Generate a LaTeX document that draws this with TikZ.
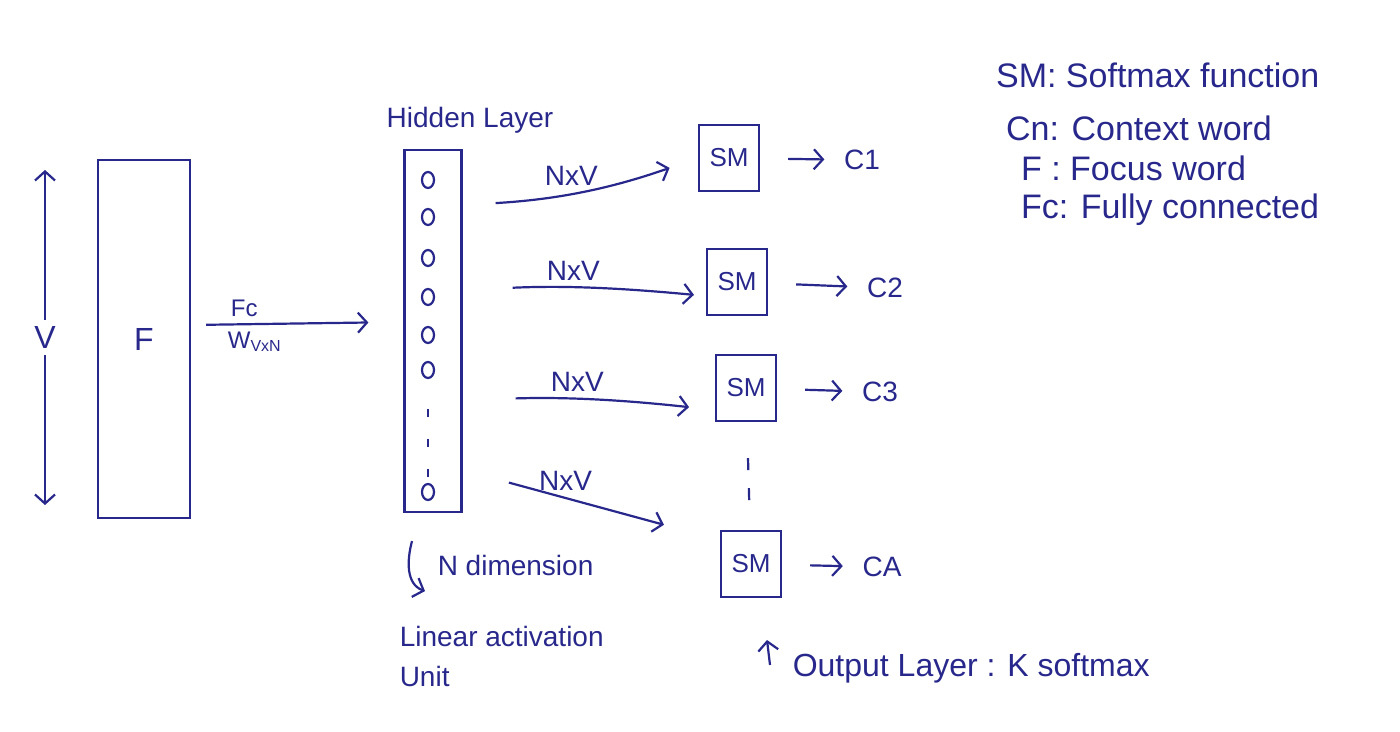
\documentclass[tikz,border=0pt]{standalone}
\usepackage{fontspec}
\setmainfont{Liberation Sans}
\usetikzlibrary{shapes,arrows,arrows.meta}
\definecolor{ink}{RGB}{40,40,140}
\tikzstyle{block} = [rectangle, draw, 
    text centered, minimum width=30pt, minimum height=33pt, font=\fontsize{13}{15}\selectfont]
\tikzstyle{unit} = [ellipse, draw, inner sep=0pt, minimum width=6pt, minimum height=8pt]
\tikzstyle{note} = [anchor=west, inner sep=0pt]
\tikzstyle{line} = [draw, -{Straight Barb[length=4.5pt, width=10pt]}]

\begin{document}
\begin{tikzpicture}[x=0.5pt, y=-0.5pt, ink, line width=1.1pt, font=\fontsize{14}{17}\selectfont]
\useasboundingbox (0,0) rectangle (1400,732);

% input word and hidden layer
\node [block, minimum width=46pt, minimum height=179pt, font=\fontsize{16}{18}\selectfont] at (144,339) (focus) {F};
\node [block, minimum width=28.5pt, minimum height=181pt] at (433,331) (hidden) {};
\node at (470,120) (hiddenlabel) {Hidden Layer};
\foreach \y [count=\i] in {180,217,258,297,335,370,492}
    \node [unit] at (428,\y) (u\i) {};
\draw [dash pattern=on 4pt off 11pt, shorten <=15pt, shorten >=1pt] (u6) -- (u7);

\coordinate (vtop) at (45,170);
\coordinate (vbot) at (45,505);
\draw [{Straight Barb[length=4.5pt, width=10pt]}-{Straight Barb[length=4.5pt, width=10pt]}] (vtop) -- node[fill=white, font=\fontsize{16}{18}\selectfont] {V} (vbot);

\draw [line, shorten <=7.5pt, shorten >=17.5pt] ([yshift=7pt]focus.east) -- node[pos=0.25, above, font=\fontsize{12}{14}\selectfont] {Fc} node[pos=0.3, below, font=\fontsize{12}{14}\selectfont] {W\textsubscript{VxN}} ([yshift=4.5pt]hidden.west);

% softmax outputs
\node [block] at (729,158) (s1) {SM};
\node [block] at (737,282) (s2) {SM};
\node [block] at (746,388) (s3) {SM};
\node [block] at (751,564) (s4) {SM};
\node at (862,160) (c1) {C1};
\node at (885,288) (c2) {C2};
\node at (880,392) (c3) {C3};
\node at (882,567) (c4) {CA};
\foreach \i in {1,2,3,4}
    \draw [line, shorten <=14pt, shorten >=6pt] (s\i) -- (c\i);
\draw [dash pattern=on 6pt off 9pt, shorten <=18pt, shorten >=8pt] (s3) -- (s4);

\draw [line, shorten <=16.5pt, shorten >=15pt] ([yshift=63pt]hidden.east) to[bend right=8] node[pos=0.45, above] {NxV} (s1.west);
\draw [line, shorten <=25pt, shorten >=6pt] ([yshift=20.5pt]hidden.east) to[bend left=4] node[pos=0.45, above] {NxV} ([yshift=-7pt]s2.west);
\draw [line, shorten <=26.5pt, shorten >=13pt] ([yshift=-34.5pt]hidden.east) to[bend left=4] node[pos=0.45, above] {NxV} ([yshift=-11pt]s3.west);
\draw [line, shorten <=24pt, shorten >=29pt] ([yshift=-69.5pt]hidden.east) -- node[pos=0.4, above] {NxV} ([yshift=12pt]s4.west);

% annotations
\node [anchor=west] at (430,565) (ndim) {N dimension};
\draw [line] ([xshift=-10.5pt,yshift=-14pt]hidden.south) to[out=255,in=160] ([xshift=-4pt,yshift=-39pt]hidden.south);
\node [anchor=north west, align=left, font=\fontsize{14}{20}\selectfont] at (392,618) (linear) {Linear activation\\Unit};
\node [anchor=west, font=\fontsize{16}{19}\selectfont] at (785,668) (outlabel) {Output Layer : K softmax};
\draw [line] ([xshift=-7.5pt,yshift=1.5pt]outlabel.west) -- ([xshift=-9pt,yshift=14pt]outlabel.west);

% legend
\node [note, font=\fontsize{17}{20}\selectfont] at (995,75) (legsm) {SM: Softmax function};
\node [note, font=\fontsize{17}{20}\selectfont] at (1005,128) (legcn) {Cn: Context word};
\node [note, font=\fontsize{17}{20}\selectfont] at (1020,168) (legf) {F : Focus word};
\node [note, font=\fontsize{17}{20}\selectfont] at (1020,210) (legfc) {Fc: Fully connected};
\end{tikzpicture}
\end{document}
